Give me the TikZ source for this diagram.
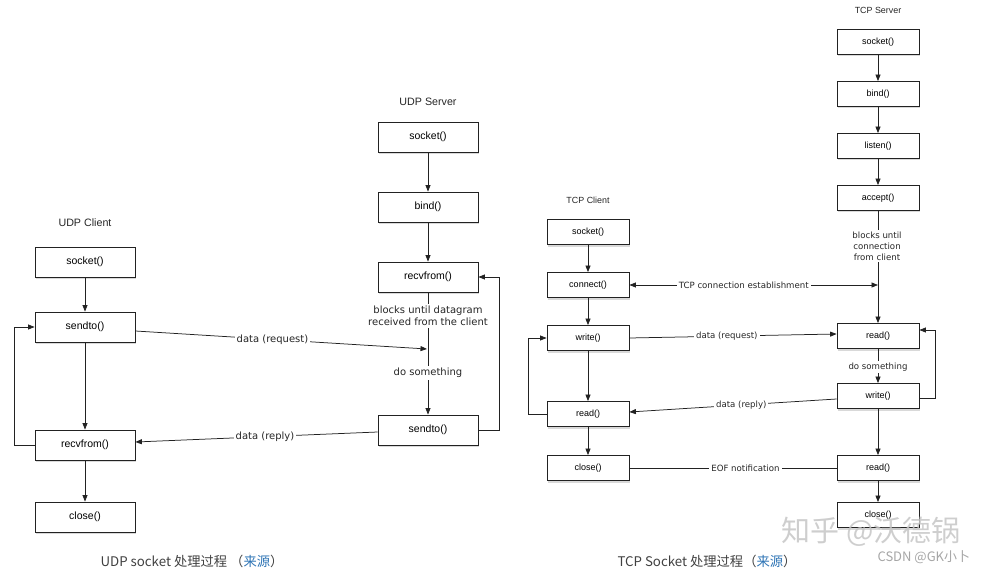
\documentclass[tikz,border=0pt]{standalone}
\usepackage{fontspec}
\setmainfont{Liberation Sans}
\newfontfamily\lblfont{DejaVu Sans}
\newfontfamily\cjkfont{Noto Sans CJK SC}
\usetikzlibrary{arrows.meta,shadows}
\definecolor{linkblue}{HTML}{2E74B5}
\definecolor{lncol}{HTML}{222222}
\begin{document}
\begin{tikzpicture}[x=1pt,y=-1pt,
  ubox/.style={draw=lncol, line width=0.8pt, fill=white, minimum width=100pt, minimum height=30pt,
    inner sep=0pt, font=\fontsize{10.5}{12}\selectfont,
    drop shadow={shadow xshift=1pt,shadow yshift=-2pt,opacity=0.3}},
  tbox/.style={ubox, minimum width=82pt, minimum height=25pt, font=\fontsize{9}{11}\selectfont},
  ulbl/.style={fill=white, inner sep=2pt, font=\lblfont\fontsize{10}{12.5}\selectfont, text=black!85},
  tlbl/.style={fill=white, inner sep=2pt, font=\lblfont\fontsize{8.6}{11}\selectfont, text=black!85},
  uttl/.style={font=\fontsize{10.7}{12}\selectfont, text=black!85},
  tttl/.style={font=\fontsize{8.9}{11}\selectfont, text=black!85},
  arr/.style={draw=lncol, line width=0.75pt, -{Triangle[length=6.5pt,width=5pt]}},
  arrtwo/.style={draw=lncol, line width=0.75pt, {Triangle[length=6.5pt,width=5pt]}-{Triangle[length=6.5pt,width=5pt]}},
  plainline/.style={draw=lncol, line width=0.75pt},
  captxt/.style={anchor=west, font=\cjkfont\fontsize{13.3}{15}\selectfont, text=black!75}
]
\useasboundingbox (0,0) rectangle (985,572);

% ---------------- UDP client ----------------
\node[uttl] (uct) at (85,223) {UDP Client};
\node[ubox] (cs) at (85,262) {socket()};
\node[ubox] (csend) at (85,327) {sendto()};
\node[ubox] (crecv) at (85,445) {recvfrom()};
\node[ubox] (cclose) at (85,517) {close()};

% ---------------- UDP server ----------------
\node[uttl] (ust) at (428,102) {UDP Server};
\node[ubox] (ss) at (428,137) {socket()};
\node[ubox] (sb) at (428,207) {bind()};
\node[ubox] (srecv) at (428,277) {recvfrom()};
\node[ubox] (ssend) at (428,430) {sendto()};

\draw[arr] (cs) -- (csend);
\draw[arr] (csend) -- (crecv);
\draw[arr] (crecv) -- (cclose);
\draw[arr] (crecv.west) -- ++(-20,0) |- (csend.west);

\draw[arr] (ss) -- (sb);
\draw[arr] (sb) -- (srecv);
\draw[arr] (srecv) -- (ssend);
\draw[arr] (ssend.east) -- ++(21,0) |- (srecv.east);

\node[ulbl, align=center] (blk) at (428,316) {blocks until datagram\\received from the client};
\node[ulbl] (dos) at (428,373) {do something};

\coordinate (reqend) at (427,349);
\draw[arr] ([yshift=-4pt]csend.east) -- (reqend) node[ulbl,pos=0.47] (req) {data (request)};
\draw[arr] ([yshift=-2pt]ssend.west) -- ([yshift=3pt]crecv.east) node[ulbl,pos=0.465] (rep) {data (reply)};

% ---------------- TCP client ----------------
\node[tttl] (tct) at (588,200) {TCP Client};
\node[tbox] (tcs) at (588,232) {socket()};
\node[tbox] (tcc) at (588,285) {connect()};
\node[tbox] (tcw) at (588,338) {write()};
\node[tbox] (tcr) at (588,414) {read()};
\node[tbox] (tccl) at (588,468) {close()};

\draw[arr] (tcs) -- (tcc);
\draw[arr] (tcc) -- (tcw);
\draw[arr] (tcw) -- (tcr);
\draw[arr] (tcr) -- (tccl);
\draw[arr] (tcr.west) -- ++(-18,0) |- (tcw.west);

% ---------------- TCP server ----------------
\node[tttl] (tst) at (878,10) {TCP Server};
\node[tbox] (tss) at (878,42) {socket()};
\node[tbox] (tsb) at (878,94) {bind()};
\node[tbox] (tsl) at (878,146) {listen()};
\node[tbox] (tsa) at (878,198) {accept()};
\node[tbox] (tsr) at (878,336) {read()};
\node[tbox] (tsw) at (878,396) {write()};
\node[tbox] (tsr2) at (878,468) {read()};
\node[tbox] (tscl) at (878,515) {close()};

\draw[arr] (tss) -- (tsb);
\draw[arr] (tsb) -- (tsl);
\draw[arr] (tsl) -- (tsa);
\draw[arr] (tsa) -- (tsr);
\draw[arr] (tsr) -- (tsw);
\draw[arr] (tsw) -- (tsr2);
\draw[arr] (tsr2) -- (tscl);
\draw[arr] ([yshift=-2pt]tsw.east) -- ++(16,0) |- ([yshift=6pt]tsr.east);

\node[tlbl, align=center] (tblk) at (877,246) {blocks until\\connection\\from client};
\node[tlbl] (tdos) at (878,367) {do something};

\coordinate (tconn) at (tsa.south |- tcc.east);
\draw[arrtwo] (tcc.east) -- (tconn) node[tlbl,pos=0.46] (tce) {TCP connection establishment};
\draw[arr] (tcw.east) -- ([yshift=2pt]tsr.west) node[tlbl,pos=0.47] (treq) {data (request)};
\draw[arr] ([yshift=-3pt]tsw.west) -- ([yshift=2pt]tcr.east) node[tlbl,pos=0.46] (trep) {data (reply)};
\draw[plainline] (tccl.east) -- (tsr2.west) node[tlbl,pos=0.56] (teof) {EOF notification};

% ---------------- captions ----------------
\node[captxt] (cap1) at (97,561) {UDP socket 处理过程 （\textcolor{linkblue}{来源}）};
\node[captxt] (cap2) at (614,561) {TCP Socket 处理过程（\textcolor{linkblue}{来源}）};

% ---------------- watermarks ----------------
\node[anchor=west, font=\cjkfont\fontsize{29}{32}\selectfont, text=gray!45, opacity=0.85] (wm1) at (778,532) {知乎 @沃德锅};
\node[anchor=west, font=\cjkfont\fontsize{13}{15}\selectfont, text=gray!70] (wm2) at (874,557) {CSDN @GK小卜};
\end{tikzpicture}
\end{document}
